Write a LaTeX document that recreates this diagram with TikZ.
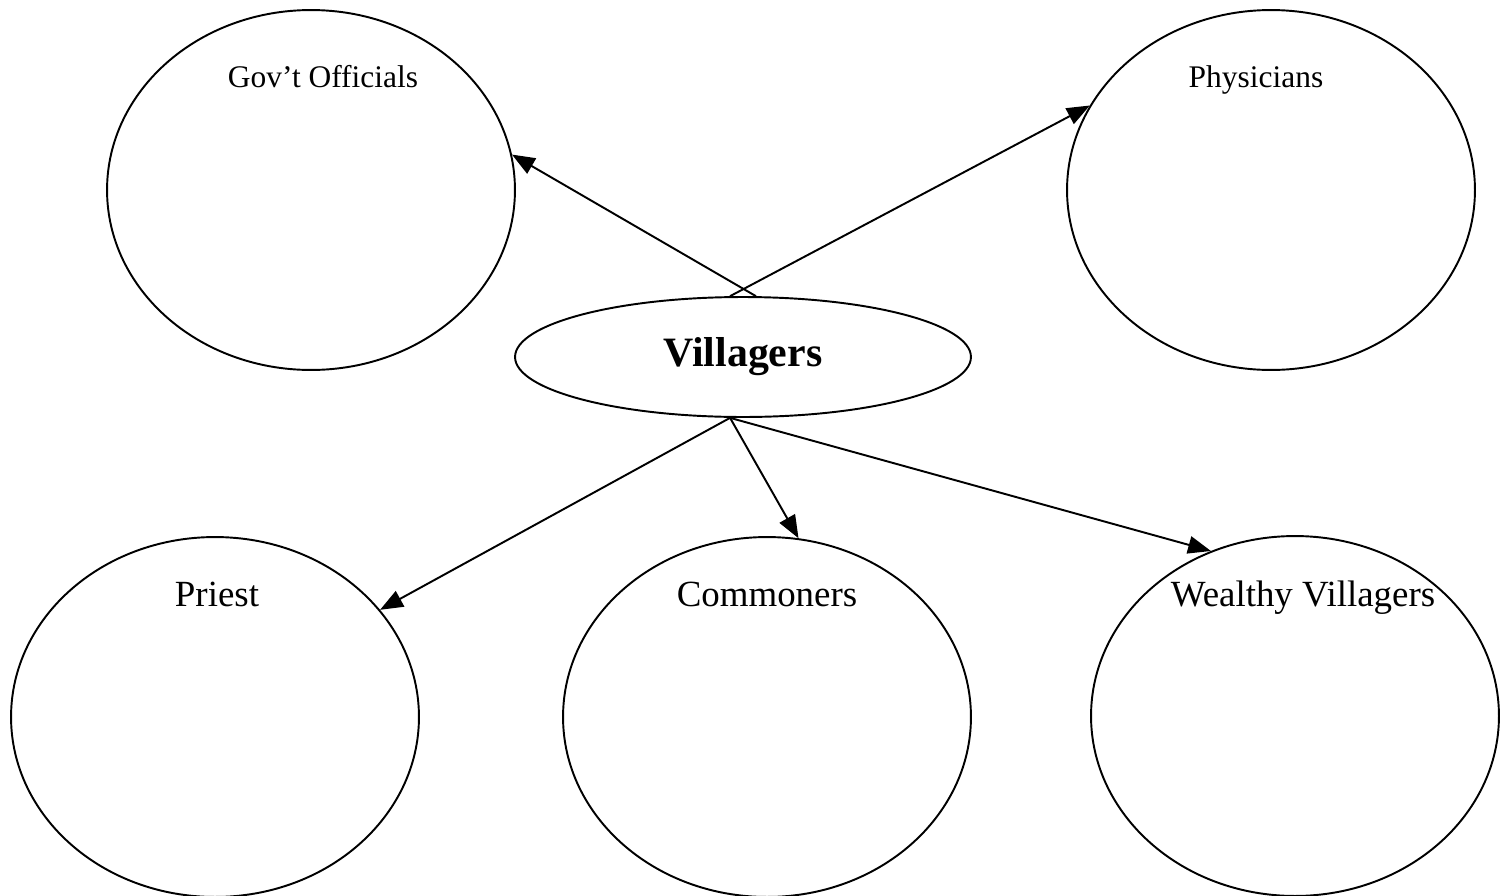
\documentclass[tikz,border=0pt]{standalone}
\usepackage{fontspec}
\setmainfont{Liberation Serif}
\usetikzlibrary{shapes.geometric,arrows.meta}
\begin{document}
\begin{tikzpicture}
      [x=0.02cm,y=-0.02cm,line width=1.1pt,
       group/.style={ellipse,draw=black,minimum width=8.16cm,minimum height=7.2cm,inner sep=0pt},
       lbl/.style={draw=none,fill=none,inner sep=0pt,anchor=base},
       every path/.style={-{Triangle[length=13pt,width=10pt]}}]
      \useasboundingbox (0,0) rectangle (1509,896);
      \node[group] (gov) at (311,190) {};
      \node[group] (phys) at (1271,190) {};
      \node[group] (priest) at (215,717) {};
      \node[group] (comm) at (767,717) {};
      \node[group] (wealth) at (1295,716) {};
      \node[group, minimum width=9.12cm, minimum height=2.4cm,
            font=\fontsize{23.8}{26}\selectfont\bfseries] (vill) at (743,357) {Villagers};

      \node[lbl, font=\fontsize{17.9}{20}\selectfont] at (323,87) {Gov’t Officials};
      \node[lbl, font=\fontsize{17.9}{20}\selectfont] at (1256,87) {Physicians};
      \node[lbl, font=\fontsize{21}{24}\selectfont] at (217,606) {Priest};
      \node[lbl, font=\fontsize{21}{24}\selectfont] at (767,606) {Commoners};
      \node[lbl, font=\fontsize{21}{24}\selectfont] at (1303,606) {Wealthy Villagers};

      \foreach \from/\to in {vill.78/gov.10, vill.102/phys.155, vill.258/priest.33,
                             vill.258/comm.80, vill.258/wealth.117}
      \draw (\from) -- (\to);
\end{tikzpicture}
\end{document}
